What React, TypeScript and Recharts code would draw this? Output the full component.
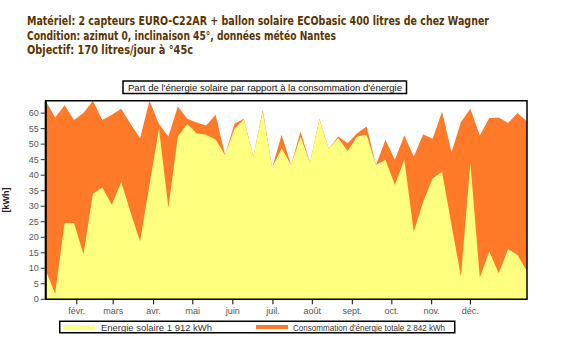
import React from 'react'
import {
  AreaChart,
  Area,
  XAxis,
  YAxis,
  ReferenceArea,
} from 'recharts'

// weekly values, kWh
const solaire = [
  9.3, 1.9, 24.6, 24.6, 14.5, 34, 36, 30.5, 37.8, 28, 18.6, 37, 55,
  29.5, 52.5, 56.5, 53.5, 53, 51.5, 46.5, 55, 58, 46, 60.5, 42.5, 48.7,
  43.3, 52.5, 43.9, 58, 48.5, 52, 47.8, 52.5, 53, 43.3, 45, 36.9, 45,
  21.8, 31.5, 39, 41, 24, 7.3, 44, 7, 15.4, 8.4, 16.2, 14.3, 9,
]
const consommation = [
  64, 58.6, 62.5, 57.8, 60, 64, 57.8, 59.5, 61.4, 56.5, 51.9, 64, 56.5,
  52.5, 62.1, 58.2, 57, 56, 59.5, 46.5, 56.6, 58.2, 46, 61, 42.5, 53,
  43.3, 54.1, 43.9, 58.2, 48.5, 52.5, 50.3, 53.5, 55.7, 43.3, 51.4, 45, 52.8,
  46, 53.2, 51.7, 60.5, 47.4, 57.1, 61.4, 52.8, 58.4, 58.6, 56.8, 60, 57.3,
]

// month tick positions, in week units
const monthTicks = [3.3, 7.15, 11.43, 15.59, 19.83, 24.08, 28.25, 32.49, 36.68, 40.9, 45.0]
const monthLabels = ['févr.', 'mars', 'avr.', 'mai', 'juin', 'juil.', 'août', 'sept.', 'oct.', 'nov.', 'déc.']
const yTicks = [0, 5, 10, 15, 20, 25, 30, 35, 40, 45, 50, 55, 60]

const headerLines = [
  'Matériel: 2 capteurs EURO-C22AR + ballon solaire ECObasic 400 litres de chez Wagner',
  'Condition: azimut 0, inclinaison 45°, données météo Nantes',
  'Objectif: 170 litres/jour à °45c',
]
const headerWidths = [462, 309, 166]

const title = "Part de l'énergie solaire par rapport à la consommation d'énergie"
const legendSolaire = 'Energie solaire 1 912 kWh'
const legendTotal = "Consommation d'énergie totale 2 842 kWh"

const YELLOW = '#FFFF80'
const ORANGE = '#FF7A28'

const data = solaire.map((s, i) => ({
  week: i,
  solaire: s,
  total: consommation[i],
}))

const monthLabel = (v: number) => {
  const i = monthTicks.indexOf(v)
  return i >= 0 ? monthLabels[i] : ''
}

export default function App() {
  return (
    <div style={{ position: 'absolute', left: 0, top: 0, width: 570, height: 347, background: '#fff' }}>
      <AreaChart
        width={570}
        height={347}
        data={data}
        margin={{ top: 100.7, right: 43, left: 0, bottom: 27.7 }}
      >
        <XAxis
          dataKey="week"
          type="number"
          domain={[0, 51]}
          ticks={monthTicks}
          tickFormatter={monthLabel}
          interval={0}
          height={20}
          axisLine={false}
          tickLine={{ stroke: '#000' }}
          tickSize={5}
          tick={{ fontSize: 9, fill: '#555', fontFamily: 'Liberation Sans, Arial', dy: 1 }}
        />
        <YAxis
          type="number"
          domain={[0, 64]}
          ticks={yTicks}
          interval={0}
          width={45.7}
          axisLine={{ stroke: '#000', strokeWidth: 2 }}
          tickLine={{ stroke: '#333' }}
          tickSize={5}
          tick={{ fontSize: 9, fill: '#555', fontFamily: 'Liberation Sans, Arial' }}
          label={{
            value: '[kWh]',
            angle: -90,
            position: 'insideLeft',
            offset: 6,
            style: { fontSize: 9, fill: '#222', fontWeight: 'bold', fontFamily: 'Liberation Sans, Arial', textAnchor: 'middle' },
          }}
        />
        <Area
          type="linear"
          dataKey="total"
          name={legendTotal}
          stroke="none"
          fill={ORANGE}
          fillOpacity={1}
          isAnimationActive={false}
        />
        <Area
          type="linear"
          dataKey="solaire"
          name={legendSolaire}
          stroke="none"
          fill={YELLOW}
          fillOpacity={1}
          isAnimationActive={false}
        />
        <ReferenceArea x1={0} x2={51} y1={0} y2={64} fill="none" stroke="#000" strokeWidth={1.5} ifOverflow="visible" />
      </AreaChart>

      <svg width={570} height={347} style={{ position: 'absolute', left: 0, top: 0, pointerEvents: 'none' }}>
        {headerLines.map((t, i) => (
          <text
            key={i}
            x={27}
            y={25 + i * 14.5}
            fontSize={11.5}
            fontWeight="bold"
            fontFamily="DejaVu Sans Condensed, Liberation Sans, DejaVu Sans"
            fill="#5A3300"
            textLength={headerWidths[i]}
            lengthAdjust="spacingAndGlyphs"
          >
            {t}
          </text>
        ))}
        <rect x={123} y={81} width={283.5} height={12.5} fill="#fff" stroke="#000" strokeWidth={1.5} />
        <text
          x={128}
          y={90.8}
          fontSize={9}
          fontFamily="Liberation Sans, Arial"
          fill="#111"
          textLength={274}
          lengthAdjust="spacingAndGlyphs"
        >
          {title}
        </text>

        <g transform="translate(59, 320.5)">
          <rect x={0.75} y={0.75} width={395} height={11.5} fill="#fff" stroke="#000" strokeWidth={1.5} />
          <line x1={4} x2={36} y1={6.5} y2={6.5} stroke={YELLOW} strokeWidth={4} />
          <text x={42} y={10} fontSize={9} fontFamily="Liberation Sans, Arial" fill="#333" textLength={111} lengthAdjust="spacingAndGlyphs">
            {legendSolaire}
          </text>
          <line x1={197} x2={229} y1={6.5} y2={6.5} stroke={ORANGE} strokeWidth={4} />
          <text x={234} y={10} fontSize={9} fontFamily="Liberation Sans, Arial" fill="#333" textLength={152} lengthAdjust="spacingAndGlyphs">
            {legendTotal}
          </text>
        </g>
      </svg>
    </div>
  )
}
